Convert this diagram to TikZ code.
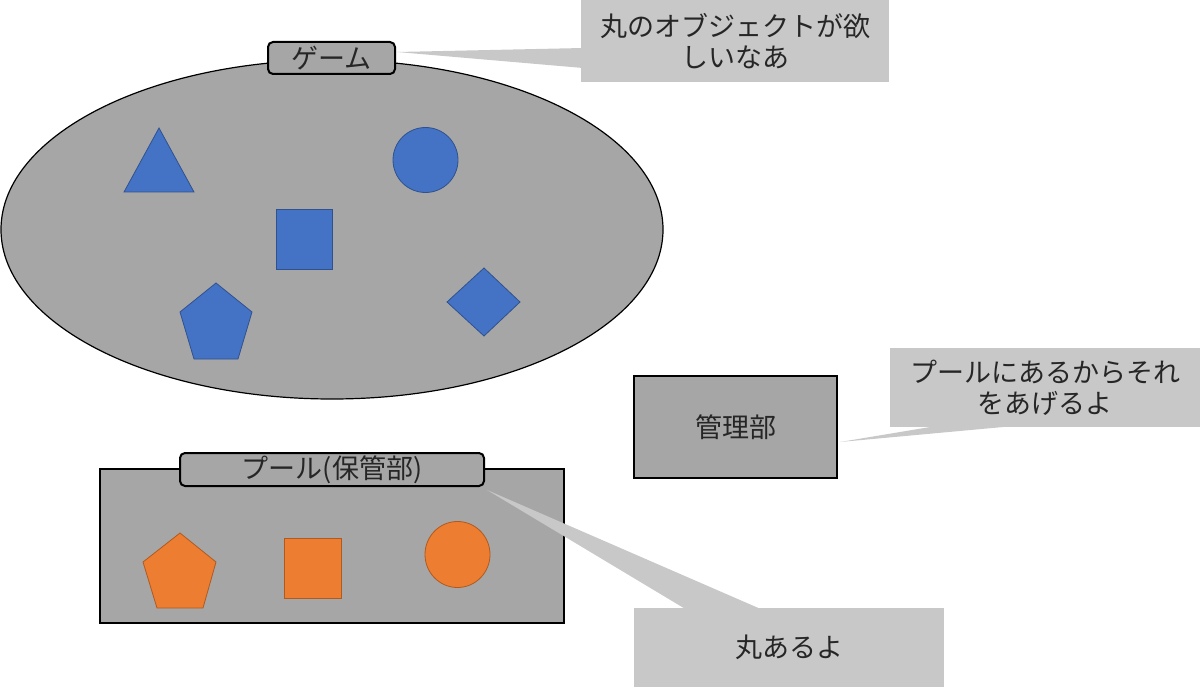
\documentclass[tikz,border=0pt]{standalone}
\usepackage{fontspec}
\newfontfamily\jp{Noto Sans CJK JP}
\usetikzlibrary{shapes.geometric}
\definecolor{boxgray}{HTML}{A6A6A6}
\definecolor{callgray}{HTML}{C8C8C8}
\definecolor{blueF}{HTML}{4472C4}
\definecolor{blueD}{HTML}{2F528F}
\definecolor{orangeF}{HTML}{ED7D31}
\definecolor{orangeD}{HTML}{AE5A21}
\begin{document}
\begin{tikzpicture}[x=1pt,y=-1pt,
  jptext/.style={font=\jp\fontsize{27}{31}\selectfont, text=black!85},
  region/.style={draw=black, line width=1.2pt, fill=boxgray, inner sep=0pt},
  tagbox/.style={draw=black, line width=2pt, fill=boxgray, rounded corners=5pt, inner sep=0pt, jptext},
  callout/.style={fill=callgray, inner sep=0pt, jptext, align=center},
  bshape/.style={fill=blueF, draw=blueD, line width=0.8pt},
  oshape/.style={fill=orangeF, draw=orangeD, line width=0.8pt}]
\useasboundingbox (0,0) rectangle (1200,687);

% game area
\node[region, ellipse, minimum width=662pt, minimum height=339pt] (game) at (332,229.5) {};
\node[tagbox, minimum width=127pt, minimum height=32pt] (gametag) at (331.5,58) {ゲーム};

% blue objects
\draw[bshape] (159,128) -- (194,192) -- (124,192) -- cycle;
\draw[bshape] (425.5,160) circle [radius=32.5pt];
\draw[bshape] (276,209) rectangle (332,269);
\draw[bshape] (216,283) -- (252,312) -- (238,359) -- (194,359) -- (180,312) -- cycle;
\draw[bshape] (484,268) -- (520,302) -- (484,336) -- (447,302) -- cycle;

% pool
\node[region, rectangle, minimum width=464pt, minimum height=154pt] (pool) at (332,546) {};
\node[tagbox, minimum width=304pt, minimum height=33pt] (pooltag) at (332,469.5) {プール(保管部)};

% orange objects
\draw[oshape] (180,533) -- (216,562) -- (203,608) -- (157,608) -- (143,562) -- cycle;
\draw[oshape] (284,538) rectangle (341,598);
\draw[oshape] (457.5,554.5) ellipse [x radius=32.5pt, y radius=33pt];

% manager
\node[region, rectangle, line width=1.5pt, minimum width=203pt, minimum height=102pt, jptext] (mgr) at (735.5,427) {管理部};

% callout 1
\coordinate (c1tip) at (397,52);
\coordinate (c1a) at (583,48);
\coordinate (c1b) at (583,68);
\fill[callgray] (c1tip) -- (c1a) -- (c1b) -- cycle;
\node[callout, minimum width=308pt, minimum height=82pt] (c1) at (735,41) {丸のオブジェクトが欲\\しいなあ};

% callout 2
\coordinate (c2tip) at (840,442);
\coordinate (c2a) at (942,425);
\coordinate (c2b) at (1025,425);
\fill[callgray] (c2tip) -- (c2a) -- (c2b) -- cycle;
\node[callout, minimum width=310pt, minimum height=79pt] (c2) at (1045,387.5) {プールにあるからそれ\\をあげるよ};

% callout 3
\coordinate (c3tip) at (487,490);
\coordinate (c3a) at (687,610);
\coordinate (c3b) at (763,610);
\fill[callgray] (c3tip) -- (c3a) -- (c3b) -- cycle;
\node[callout, minimum width=310pt, minimum height=79pt] (c3) at (789,647.5) {丸あるよ};
\end{tikzpicture}
\end{document}
